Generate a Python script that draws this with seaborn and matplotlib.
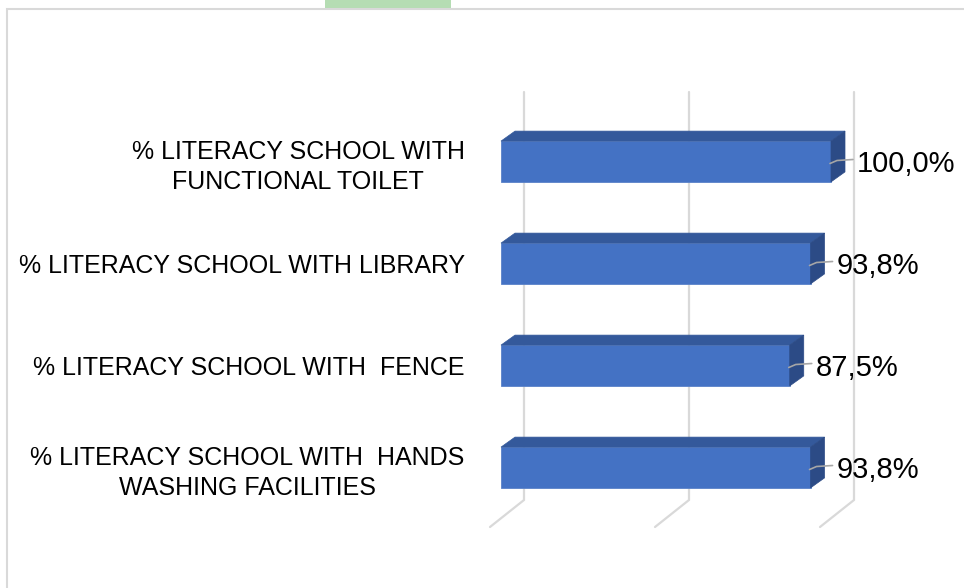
import matplotlib.pyplot as plt
import seaborn as sns
from matplotlib.patches import Polygon, Rectangle

# Данные
categories = [
    "% LITERACY SCHOOL WITH\nFUNCTIONAL TOILET",
    "% LITERACY SCHOOL WITH LIBRARY",
    "% LITERACY SCHOOL WITH  FENCE",
    "% LITERACY SCHOOL WITH  HANDS\nWASHING FACILITIES",
]
values = [1.000, 0.938, 0.875, 0.938]
value_labels = ["100,0%", "93,8%", "87,5%", "93,8%"]
grid_ticks = [0.0, 0.5, 1.0]

FRONT = "#4472C4"
TOP = "#34599B"
SIDE = "#2C4B86"
GRID = "#D9D9D9"

sns.set_style("white")
plt.rcParams["font.family"] = ["Liberation Sans", "DejaVu Sans"]

W, H = 964, 588
fig = plt.figure(figsize=(W / 100, H / 100), dpi=100)

# оси: 330 px на 100%, 102 px между категориями
PX_X = 330.0
PX_Y = 102.0
ax = fig.add_axes([480 / W, (H - 540) / H, 480 / W, 460 / H])
ax.set_xlim(-21 / PX_X, 459 / PX_X)


def ypx(p):
    # пиксель изображения -> данные по оси y
    return (p - 161.5) / PX_Y


sns.barplot(x=values, y=categories, orient="h", color=FRONT, saturation=1,
            width=0.4, edgecolor="#5A82C8", linewidth=0.6, ax=ax, zorder=3)
ax.set_ylim(3 + 72.5 / PX_Y, -81.5 / PX_Y)

# 3D-сетка: задняя стенка и пол
back_dx = 23 / PX_X
front_dx = -11 / PX_X
for v in grid_ticks:
    ax.plot([v + back_dx, v + back_dx, v + front_dx],
            [ypx(92), ypx(500), ypx(527)],
            color=GRID, lw=1.6, zorder=0, solid_joinstyle="miter")

# объём столбцов
dx = 14 / PX_X
dy = -10 / PX_Y
for bar in ax.patches[:len(values)]:
    x0, y0 = bar.get_x(), bar.get_y()
    x1 = x0 + bar.get_width()
    y1 = y0 + bar.get_height()
    top = Polygon([(x0, y0), (x1, y0), (x1 + dx, y0 + dy), (x0 + dx, y0 + dy)],
                  closed=True, facecolor=TOP, edgecolor=TOP, lw=0.5, zorder=3)
    side = Polygon([(x1, y0), (x1 + dx, y0 + dy), (x1 + dx, y1 + dy), (x1, y1)],
                   closed=True, facecolor=SIDE, edgecolor=SIDE, lw=0.5, zorder=3)
    ax.add_patch(top)
    ax.add_patch(side)

# подписи значений с выносками
for i, (v, lab) in enumerate(zip(values, value_labels)):
    yc = i
    ax.plot([v - 1 / PX_X, v + 6 / PX_X, v + 22 / PX_X],
            [yc + 2 / PX_Y, yc - 1 / PX_Y, yc - 2 / PX_Y],
            color="#A6A6A6", lw=1.2, zorder=4)
    ax.annotate(lab, xy=(v, yc), xytext=(26 * 0.72, -2 * 0.72),
                textcoords="offset points", ha="left", va="center",
                fontsize=21, color="#000000", zorder=5)

# оформление осей
for s in ax.spines.values():
    s.set_visible(False)
ax.set_xticks([])
ax.set_xlabel("")
ax.set_ylabel("")
ax.tick_params(axis="y", length=0, pad=11, labelsize=18, labelcolor="#000000")
for t in ax.get_yticklabels():
    t.set_multialignment("center")
    t.set_linespacing(1.3)
ax.patch.set_alpha(0)

# рамка области диаграммы и зелёный фрагмент сверху
fig.patches.append(Rectangle((325 / W, (H - 9) / H), 126 / W, 9 / H,
                             transform=fig.transFigure, facecolor="#B5DDB3",
                             edgecolor="none", zorder=0))
fig.patches.append(Rectangle((7 / W, -0.1), 2, (H - 9) / H + 0.1,
                             transform=fig.transFigure, facecolor="none",
                             edgecolor=GRID, lw=1.5, zorder=1))

fig.savefig("out.png", dpi=100)
plt.close(fig)
